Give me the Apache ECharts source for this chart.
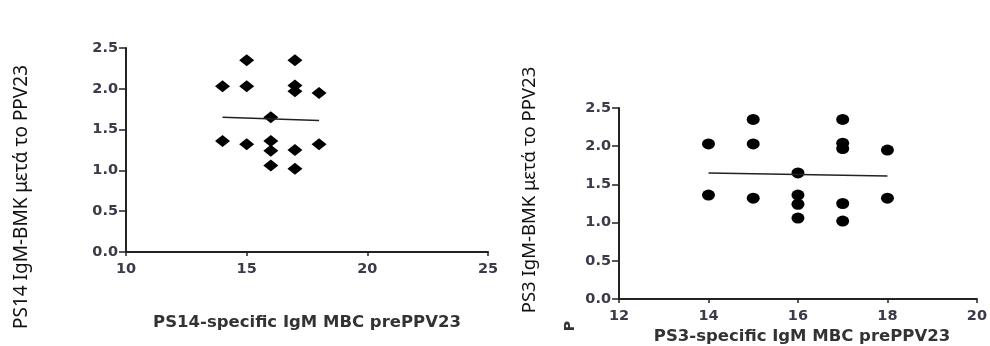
<!DOCTYPE html>
<html>
<head>
<meta charset="utf-8">
<script src="https://cdn.jsdelivr.net/npm/echarts@6/dist/echarts.min.js"></script>
<style>
  html, body { margin: 0; padding: 0; background: #fff; }
  #chart { width: 990px; height: 346px; }
</style>
</head>
<body>
<div id="chart"></div>
<script>
// same values plotted in both panels
var preVals = [14, 14, 15, 15, 15, 16, 16, 16, 16, 17, 17, 17, 17, 17, 18, 18];
var postVals = [2.03, 1.36, 2.35, 2.03, 1.32, 1.65, 1.36, 1.24, 1.06, 2.35, 2.04, 1.97, 1.25, 1.02, 1.95, 1.32];
var fitX = [14, 18];
var fitY = [1.65, 1.61];

var titles14 = { y: 'PS14 IgM-BMK μετά το PPV23', x: 'PS14-specific IgM MBC prePPV23' };
var titles3 = { y: 'PS3 IgM-BMK μετά το PPV23', x: 'PS3-specific IgM MBC prePPV23' };

var points = preVals.map(function (v, i) { return [v, postVals[i]]; });
var fitLine = fitX.map(function (v, i) { return [v, fitY[i]]; });

var tickFont = { color: '#3a3a48', fontSize: 14.5, fontWeight: 'bold', fontFamily: 'DejaVu Sans' };
var axisLine = { show: true, lineStyle: { color: '#222', width: 2 } };

function xAx(idx, min, max, step) {
  return {
    type: 'value', gridIndex: idx, min: min, max: max, interval: step,
    axisLine: axisLine,
    axisTick: { show: true, length: 4, lineStyle: { color: '#222', width: 1.5 } },
    axisLabel: Object.assign({ margin: 10 }, tickFont),
    splitLine: { show: false }
  };
}
function yAx(idx) {
  return {
    type: 'value', gridIndex: idx, min: 0, max: 2.5, interval: 0.5,
    axisLine: axisLine,
    axisTick: { show: true, length: 7, lineStyle: { color: '#222', width: 1.5 } },
    axisLabel: Object.assign({ margin: 8, formatter: function (v) { return v.toFixed(1); } }, tickFont),
    splitLine: { show: false }
  };
}

var chart = echarts.init(document.getElementById('chart'));
var option = {
  backgroundColor: '#fff',
  animation: false,
  grid: [
    { left: 126, top: 48, width: 362, height: 204 },
    { left: 619, top: 108, width: 364, height: 191 }
  ],
  xAxis: [xAx(0, 10, 25, 5), xAx(1, 12, 20, 2)],
  yAxis: [yAx(0), yAx(1)],
  series: [
    {
      type: 'scatter', xAxisIndex: 0, yAxisIndex: 0, data: points,
      symbol: 'diamond', symbolSize: [15, 12],
      itemStyle: { color: '#000', opacity: 1 }
    },
    {
      type: 'line', xAxisIndex: 0, yAxisIndex: 0, data: fitLine,
      symbol: 'none', lineStyle: { color: '#222', width: 1.5 }
    },
    {
      type: 'scatter', xAxisIndex: 1, yAxisIndex: 1, data: points,
      symbol: 'circle', symbolSize: [13, 11],
      itemStyle: { color: '#000', opacity: 1 }
    },
    {
      type: 'line', xAxisIndex: 1, yAxisIndex: 1, data: fitLine,
      symbol: 'none', lineStyle: { color: '#222', width: 1.5 }
    }
  ],
  graphic: [
    {
      type: 'text', x: 22, y: 197, rotation: Math.PI / 2,
      style: { text: titles14.y, fill: '#111', fontSize: 19, fontFamily: 'Noto Sans',
        align: 'center', verticalAlign: 'middle' }
    },
    {
      type: 'text', x: 307, y: 323,
      style: { text: titles14.x, fill: '#333', fontSize: 16.5, fontWeight: 'bold', fontFamily: 'DejaVu Sans',
        align: 'center', verticalAlign: 'middle' }
    },
    {
      type: 'text', x: 530, y: 190, rotation: Math.PI / 2,
      style: { text: titles3.y, fill: '#111', fontSize: 18.5, fontFamily: 'Noto Sans',
        align: 'center', verticalAlign: 'middle' }
    },
    {
      type: 'text', x: 802, y: 337,
      style: { text: titles3.x, fill: '#333', fontSize: 16.5, fontWeight: 'bold', fontFamily: 'DejaVu Sans',
        align: 'center', verticalAlign: 'middle' }
    },
    {
      // stray rotated letter left over in the source image
      type: 'text', x: 570, y: 326, rotation: Math.PI / 2,
      style: { text: 'P', fill: '#333', fontSize: 14, fontWeight: 'bold', fontFamily: 'DejaVu Sans',
        align: 'center', verticalAlign: 'middle' }
    }
  ]
};
chart.setOption(option);
</script>
</body>
</html>
